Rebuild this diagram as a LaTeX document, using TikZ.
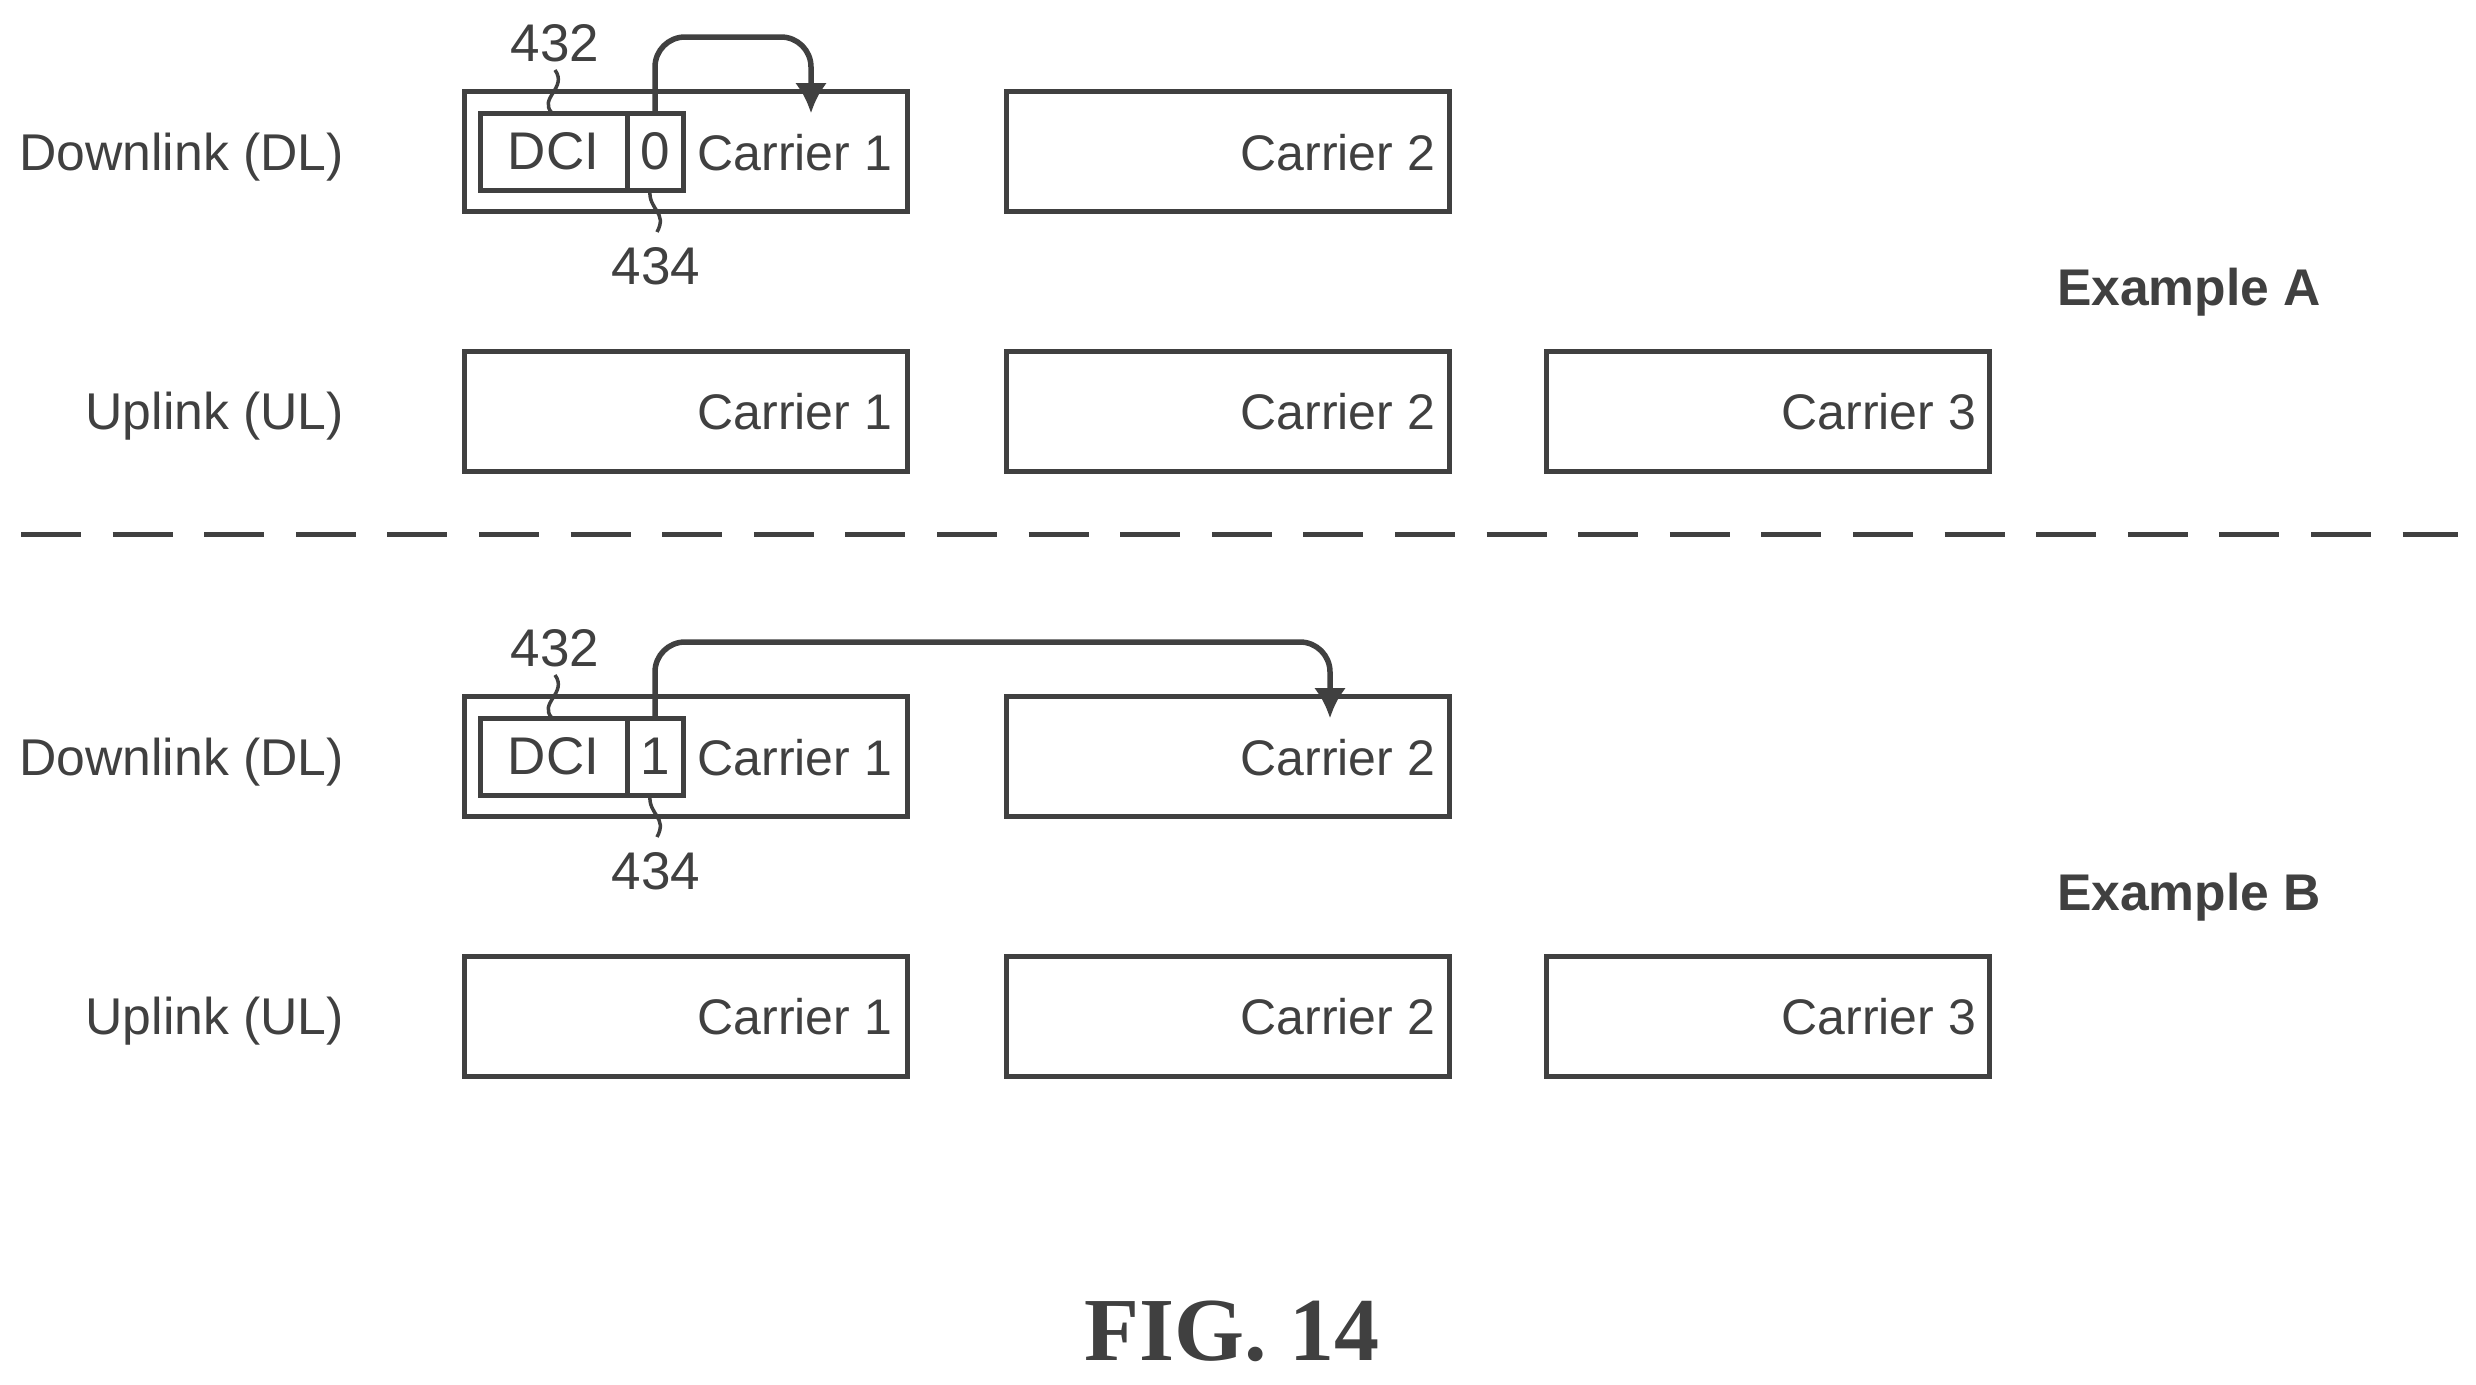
\documentclass[tikz,border=0pt]{standalone}
\usepackage{fontspec}
\setmainfont{Liberation Sans}
\newfontfamily\figfont{Liberation Serif}
\usetikzlibrary{arrows.meta}
\definecolor{ink}{gray}{0.25}
\tikzset{
  x=1pt,y=-1pt,
  boxline/.style={draw=ink,line width=5pt,inner sep=0pt,outer sep=0pt,anchor=north west,minimum height=120pt},
  carrier/.style={boxline,minimum width=443pt},
  cell/.style={draw=ink,line width=5pt,inner sep=0pt,outer sep=0pt,anchor=north west,minimum height=77pt,font=\fontsize{53}{60}\selectfont,text=ink},
  lab/.style={text=ink,inner sep=0pt,outer sep=0pt,text height=37pt,text depth=0pt},
  rowlab/.style={lab,anchor=east,font=\fontsize{51.7}{60}\selectfont},
  carlab/.style={lab,anchor=east,font=\fontsize{50}{60}\selectfont},
  numlab/.style={lab,font=\fontsize{53}{60}\selectfont},
  exlab/.style={lab,font=\fontsize{51.6}{60}\selectfont\bfseries,anchor=west},
  leader/.style={draw=ink,line width=3.5pt},
  hop/.style={draw=ink,line width=5.5pt,rounded corners=30pt,-{Latex[length=30pt,width=32pt]}},
  divide/.style={draw=ink,line width=5pt,dash pattern=on 60pt off 31.6pt},
}
\newcommand{\panel}[5]{%
  \begin{scope}[shift={(0,#1)},name prefix=#2]
    \node[carrier] (d1) at (464,91) {};
    \node[carrier] (d2) at (1006,91) {};
    \node[carrier] (u1) at (464,351) {};
    \node[carrier] (u2) at (1006,351) {};
    \node[carrier] (u3) at (1546,351) {};
    \node[rowlab] (dl) at (344,152) {Downlink (DL)};
    \node[rowlab] (ul) at (344,411) {Uplink (UL)};
    \node[carlab] (td1) at (892,152) {Carrier 1};
    \node[carlab] (td2) at (1435,152) {Carrier 2};
    \node[carlab] (tu1) at (892,411) {Carrier 1};
    \node[carlab] (tu2) at (1435,411) {Carrier 2};
    \node[carlab] (tu3) at (1976,411) {Carrier 3};
    \node[cell,minimum width=147pt] (dci) at (480,113) {DCI};
    \node[cell,minimum width=56pt] (bit) at (627,113) {#3};
    \node[numlab] (n432) at (555,43) {432};
    \node[numlab] (n434) at (656,266) {434};
    \coordinate (a432) at (555,70);
    \coordinate (b432) at (552,113);
    \coordinate (a434) at (650,190);
    \coordinate (b434) at (657,232);
    \draw[leader] (a432) .. controls (568,88) and (538,98) .. (b432);
    \draw[leader] (a434) .. controls (648,210) and (668,212) .. (b434);
    \coordinate (turn) at (#4,#5);
    \coordinate (tip) at (#4,113);
    \draw[hop] (bit.north) |- (turn) -- (tip);
  \end{scope}}
\begin{document}
\begin{tikzpicture}
\useasboundingbox (0,0) rectangle (2476,1384);
\panel{0}{a}{0}{811}{37}
\panel{605}{b}{1}{1330}{37}
\coordinate (rs) at (21,534);
\coordinate (re) at (2458,534);
\draw[divide] (rs) -- (re);
\node[exlab] (exa) at (2057,287) {Example A};
\node[exlab] (exb) at (2057,892) {Example B};
\node[font=\fontsize{90}{100}\selectfont\bfseries\figfont,text=ink,inner sep=0pt] (fig) at (1232,1331) {FIG. 14};
\end{tikzpicture}
\end{document}
